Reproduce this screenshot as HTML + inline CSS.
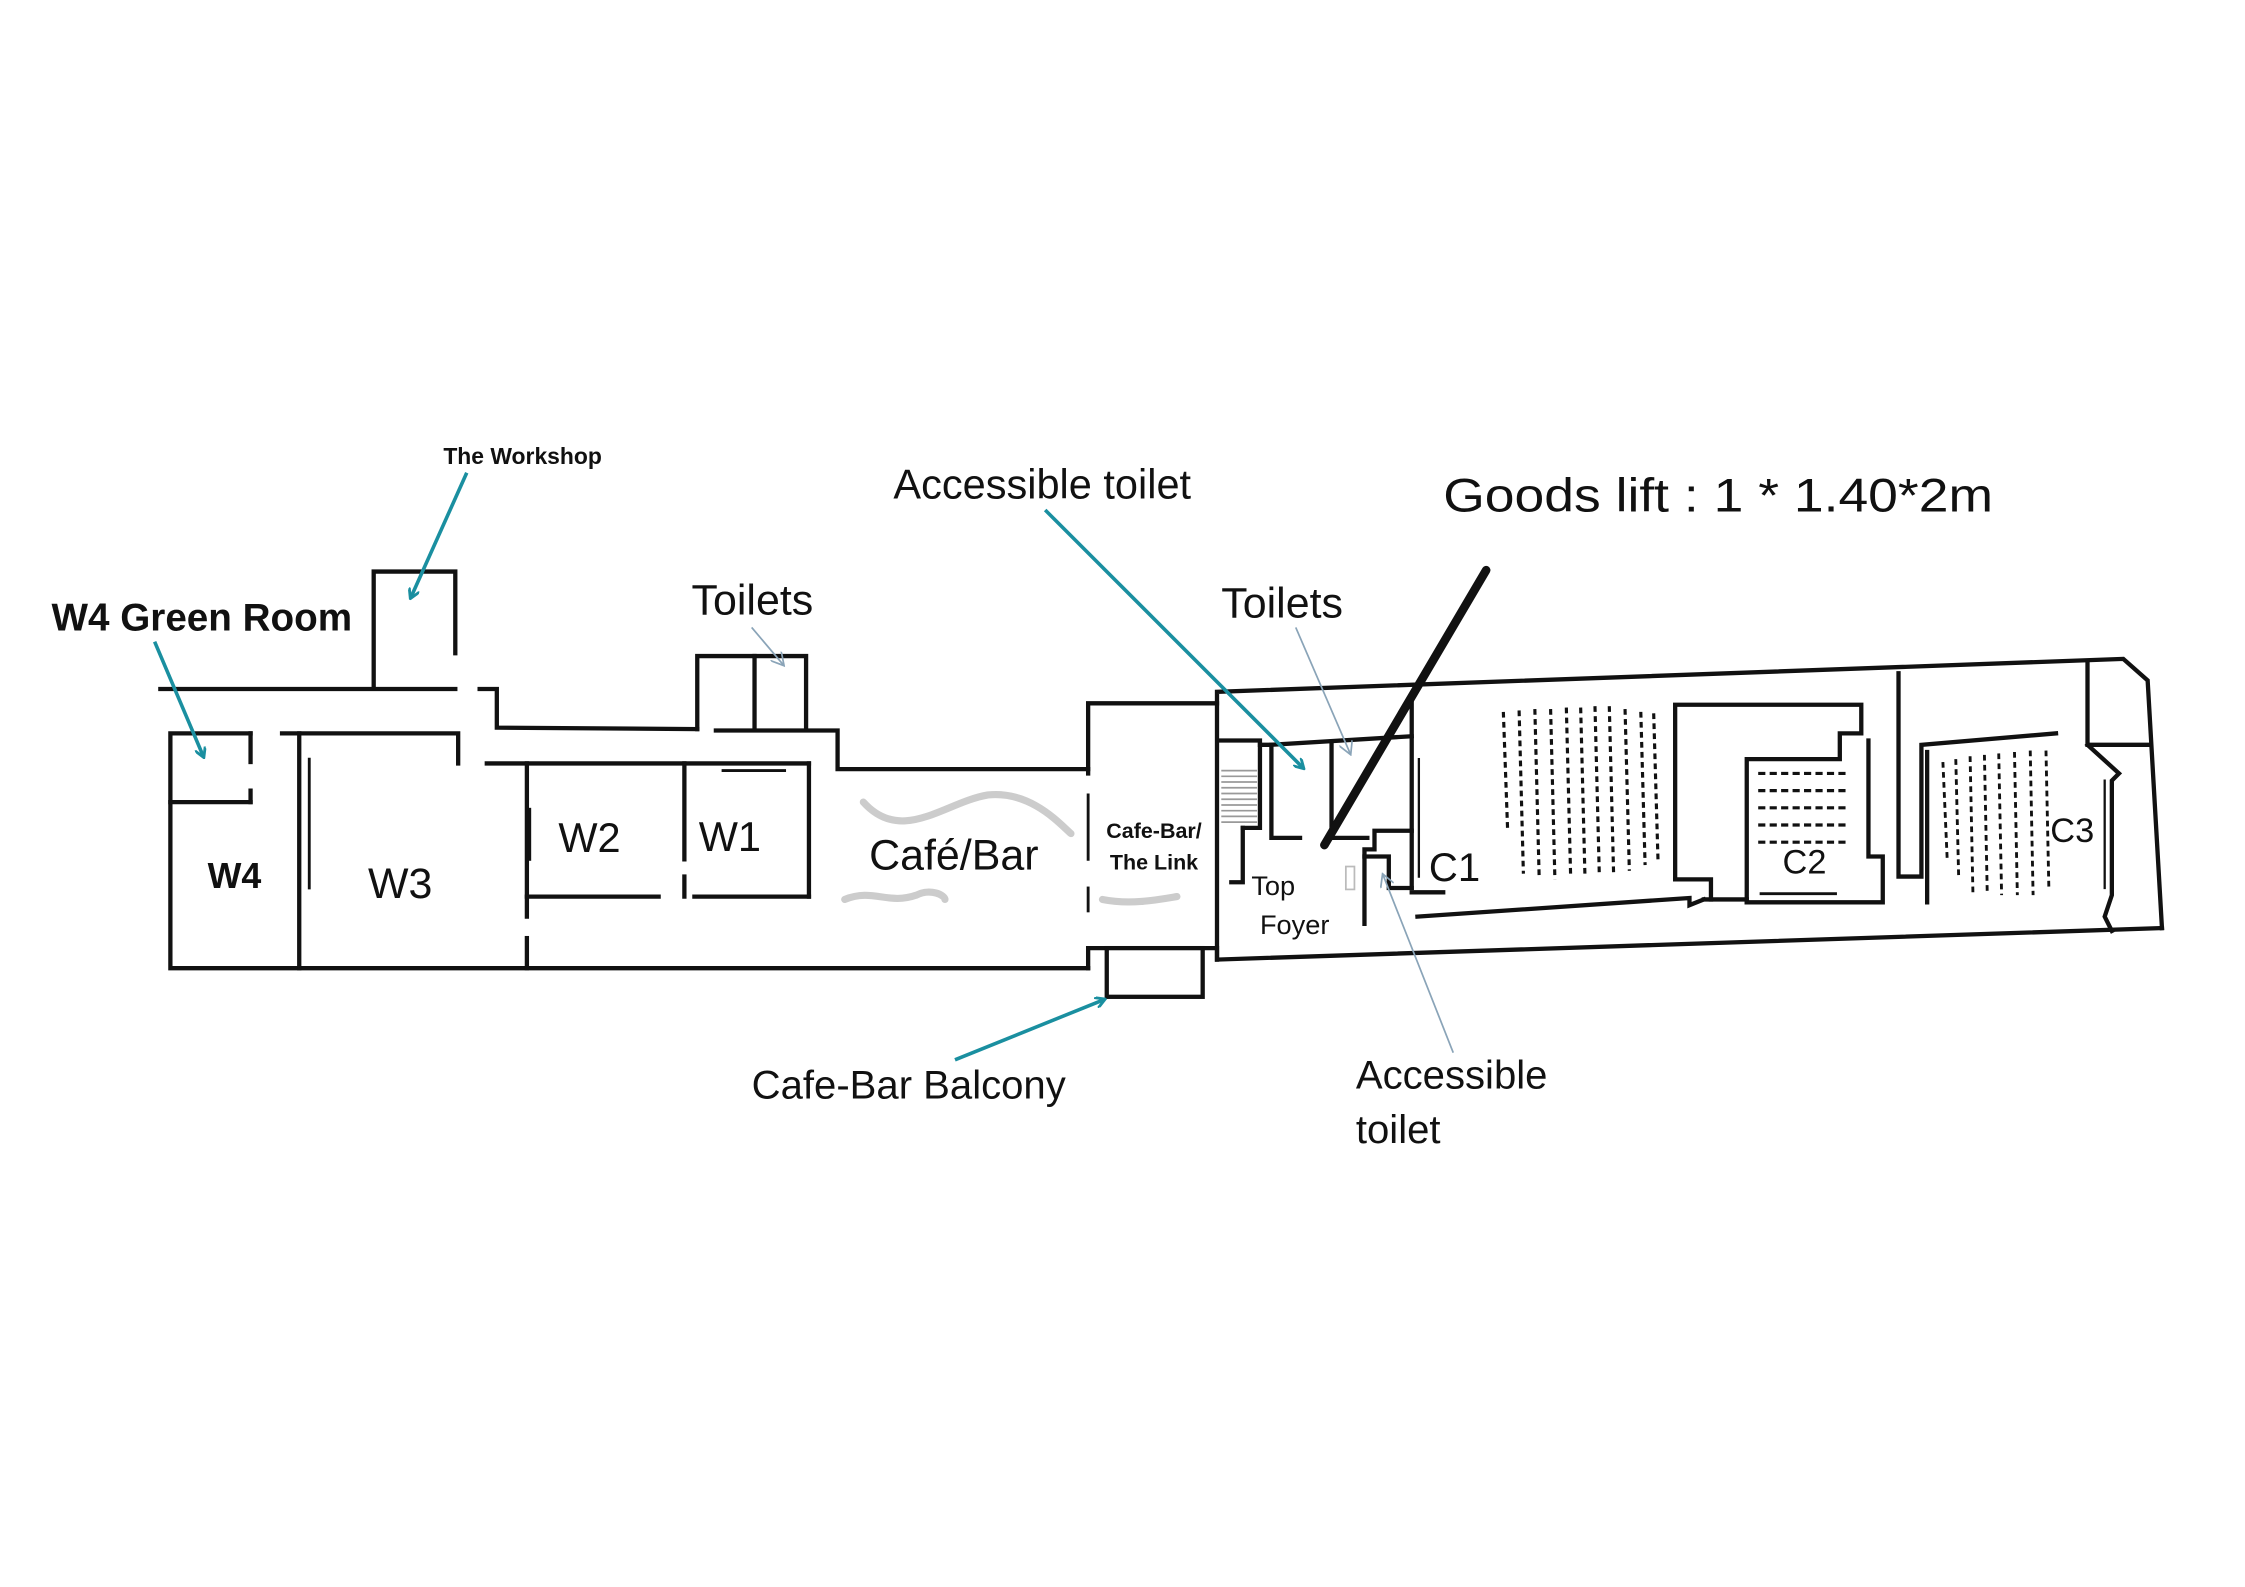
<!DOCTYPE html>
<html><head><meta charset="utf-8"><style>
html,body{margin:0;padding:0;background:#fff;}
svg{display:block;}
text{font-family:"Liberation Sans",sans-serif;fill:#111;}
</style></head><body>
<svg width="2245" height="1587" viewBox="0 0 1568 1108" xmlns="http://www.w3.org/2000/svg">
<defs>
<marker id="ta" markerWidth="8" markerHeight="8" refX="6" refY="4" orient="auto" markerUnits="userSpaceOnUse"><path d="M0,0 L7,4 L0,8" fill="none" stroke="#1a8fa0" stroke-width="2"/></marker>
<marker id="ga" markerWidth="10" markerHeight="10" refX="8" refY="5" orient="auto" markerUnits="userSpaceOnUse"><path d="M0,0 L9,5 L0,10" fill="none" stroke="#8aa4b8" stroke-width="1.2"/></marker>
</defs>
<g fill="none" stroke="#111" stroke-width="3" stroke-linecap="square">
<polyline points="261,480 261,399 318,399 318,456"/>
<line x1="112" y1="481" x2="318" y2="481"/>
<polyline points="335,481 347,481 347,508 487,509"/>
<polyline points="487,509 487,458 563,458 563,509"/>
<line x1="527" y1="458" x2="527" y2="509"/>
<polyline points="500,510 585,510 585,537 760,537"/>
<polyline points="175,512 119,512 119,676 760,676"/>
<line x1="119" y1="560" x2="175" y2="560"/>
<line x1="175" y1="512" x2="175" y2="532"/>
<line x1="175" y1="552" x2="175" y2="560"/>
<line x1="209" y1="512" x2="209" y2="676"/>
<line x1="216" y1="530" x2="216" y2="620" stroke-width="2"/>
<polyline points="197,512 320,512 320,533"/>
<line x1="340" y1="533" x2="565" y2="533"/>
<line x1="565" y1="533" x2="565" y2="626"/>
<line x1="368" y1="626" x2="460" y2="626"/>
<line x1="485" y1="626" x2="565" y2="626"/>
<line x1="368" y1="533" x2="368" y2="640"/>
<line x1="368" y1="655" x2="368" y2="676"/>
<line x1="478" y1="533" x2="478" y2="600"/>
<line x1="478" y1="612" x2="478" y2="626"/>
<line x1="370" y1="565" x2="370" y2="600" stroke-width="2"/>
<line x1="505" y1="538" x2="548" y2="538" stroke-width="2"/>
<polyline points="760,540 760,491 850,491"/>
<line x1="760" y1="555" x2="760" y2="600" stroke-width="2"/>
<line x1="760" y1="620" x2="760" y2="636" stroke-width="2"/>
<polyline points="760,676 760,662 773,662"/>
<rect x="773" y="662" width="67" height="34"/>
<polyline points="840,662 850,662 850,670 1510,648"/>
<polyline points="850,670 850,483 1483,460 1500,475 1510,648"/>
<polyline points="852,517 880,517 880,578 868,578"/>
<polyline points="868,578 868,616 860,616"/>
<polyline points="880,520 888,520 888,585 908,585"/>
<line x1="928" y1="585" x2="955" y2="585"/>
<polyline points="888,520 986,514"/>
<line x1="930" y1="520" x2="930" y2="585"/>
<polyline points="986,490 986,580 960,580 960,593 953,593 953,645"/>
<polyline points="953,598 970,598 970,620 986,620"/>
<line x1="986" y1="580" x2="986" y2="620"/>
<line x1="986" y1="623" x2="1008" y2="623"/>
<line x1="991" y1="530" x2="991" y2="612" stroke-width="1.6"/>
<polyline points="990,640 1180,627 1180,632 1190,628"/>
<polyline points="1170,614 1170,492 1300,492 1300,512 1285,512 1285,530 1220,530 1220,630"/>
<polyline points="1190,628 1220,628"/>
<polyline points="1170,614 1195,614 1195,628"/>
<polyline points="1220,630 1315,630 1315,598 1305,598 1305,517"/>
<line x1="1230" y1="624" x2="1282" y2="624" stroke-width="2"/>
<polyline points="1326,470 1326,612 1342,612 1342,520 1436,512"/>
<line x1="1346" y1="630" x2="1346" y2="525"/>
<polyline points="1458,462 1458,520 1500,520"/>
<polyline points="1458,520 1480,540 1475,545 1475,625 1470,640 1475,650"/>
<line x1="1470" y1="545" x2="1470" y2="620" stroke-width="1.6"/>
</g>
<g stroke="#999" stroke-width="1.2">
<line x1="853" y1="538" x2="878" y2="538"/><line x1="853" y1="542" x2="878" y2="542"/><line x1="853" y1="546" x2="878" y2="546"/><line x1="853" y1="550" x2="878" y2="550"/><line x1="853" y1="554" x2="878" y2="554"/><line x1="853" y1="558" x2="878" y2="558"/><line x1="853" y1="562" x2="878" y2="562"/><line x1="853" y1="566" x2="878" y2="566"/><line x1="853" y1="570" x2="878" y2="570"/><line x1="853" y1="574" x2="878" y2="574"/>
</g>
<rect x="940" y="605" width="6" height="16" fill="none" stroke="#bbb" stroke-width="1.2"/>
<g stroke="#111" stroke-width="2.2" stroke-dasharray="4,3">
<line x1="1050" y1="497" x2="1053" y2="580"/><line x1="1061" y1="496" x2="1064" y2="610"/><line x1="1072" y1="495" x2="1075" y2="612"/><line x1="1083" y1="495" x2="1086" y2="614"/><line x1="1094" y1="494" x2="1097" y2="612"/><line x1="1104" y1="494" x2="1107" y2="612"/><line x1="1114" y1="493" x2="1117" y2="610"/><line x1="1124" y1="493" x2="1127" y2="610"/><line x1="1135" y1="495" x2="1138" y2="608"/><line x1="1146" y1="497" x2="1149" y2="604"/><line x1="1155" y1="498" x2="1158" y2="600"/>
</g>
<g stroke="#111" stroke-width="2.2" stroke-dasharray="5,3">
<line x1="1228" y1="540" x2="1290" y2="540"/><line x1="1228" y1="552" x2="1290" y2="552"/><line x1="1228" y1="564" x2="1290" y2="564"/><line x1="1228" y1="576" x2="1290" y2="576"/><line x1="1228" y1="588" x2="1290" y2="588"/>
</g>
<g stroke="#111" stroke-width="2" stroke-dasharray="4,3">
<line x1="1357" y1="532" x2="1360" y2="600"/><line x1="1366" y1="530" x2="1368" y2="612"/><line x1="1376" y1="528" x2="1378" y2="625"/><line x1="1386" y1="527" x2="1388" y2="625"/><line x1="1396" y1="526" x2="1398" y2="625"/><line x1="1407" y1="525" x2="1409" y2="625"/><line x1="1418" y1="524" x2="1420" y2="625"/><line x1="1429" y1="524" x2="1431" y2="620"/>
</g>
<g fill="none" stroke="#ccc" stroke-width="5" stroke-linecap="round">
<path d="M603,560 C630,590 660,560 690,555 C720,552 740,575 748,582"/>
<path d="M590,628 C610,620 620,632 640,625 C650,620 660,625 660,628"/>
<path d="M770,628 C790,632 810,628 822,626"/>
</g>
<line x1="1038" y1="398" x2="925" y2="590" stroke="#111" stroke-width="6" stroke-linecap="round"/>
<g stroke="#1a8fa0" stroke-width="2.5" fill="none">
<line x1="108" y1="448" x2="142" y2="528" marker-end="url(#ta)"/>
<line x1="326" y1="330" x2="287" y2="417" marker-end="url(#ta)"/>
<line x1="730" y1="356" x2="910" y2="536" marker-end="url(#ta)"/>
<line x1="667" y1="740" x2="771" y2="698" marker-end="url(#ta)"/>
</g>
<g stroke="#8aa4b8" stroke-width="1.2" fill="none">
<line x1="525" y1="438" x2="547" y2="464" marker-end="url(#ga)"/>
<line x1="905" y1="438" x2="943" y2="526" marker-end="url(#ga)"/>
<line x1="1015" y1="735" x2="966" y2="611" marker-end="url(#ga)"/>
</g>
<text x="36" y="440" font-size="27" font-weight="bold">W4 Green Room</text>
<text x="365" y="324" font-size="16" font-weight="bold" text-anchor="middle">The Workshop</text>
<text x="624" y="348" font-size="29">Accessible toilet</text>
<text x="1008" y="357" font-size="33" textLength="384" lengthAdjust="spacingAndGlyphs">Goods lift : 1 * 1.40*2m</text>
<text x="483" y="429" font-size="30">Toilets</text>
<text x="853" y="431" font-size="30">Toilets</text>
<text x="525" y="767" font-size="28">Cafe-Bar Balcony</text>
<text x="947" y="760" font-size="28">Accessible</text>
<text x="947" y="798" font-size="28">toilet</text>
<text x="145" y="620" font-size="25" font-weight="bold">W4</text>
<text x="257" y="627" font-size="30">W3</text>
<text x="390" y="595" font-size="29">W2</text>
<text x="488" y="594" font-size="29">W1</text>
<text x="607" y="607" font-size="30">Café/Bar</text>
<text x="806" y="585" font-size="15" font-weight="bold" text-anchor="middle">Cafe-Bar/</text>
<text x="806" y="607" font-size="15" font-weight="bold" text-anchor="middle">The Link</text>
<text x="874" y="625" font-size="19">Top</text>
<text x="880" y="652" font-size="19">Foyer</text>
<text x="998" y="615" font-size="28">C1</text>
<text x="1245" y="610" font-size="24">C2</text>
<text x="1432" y="588" font-size="24">C3</text>
</svg>
</body></html>
